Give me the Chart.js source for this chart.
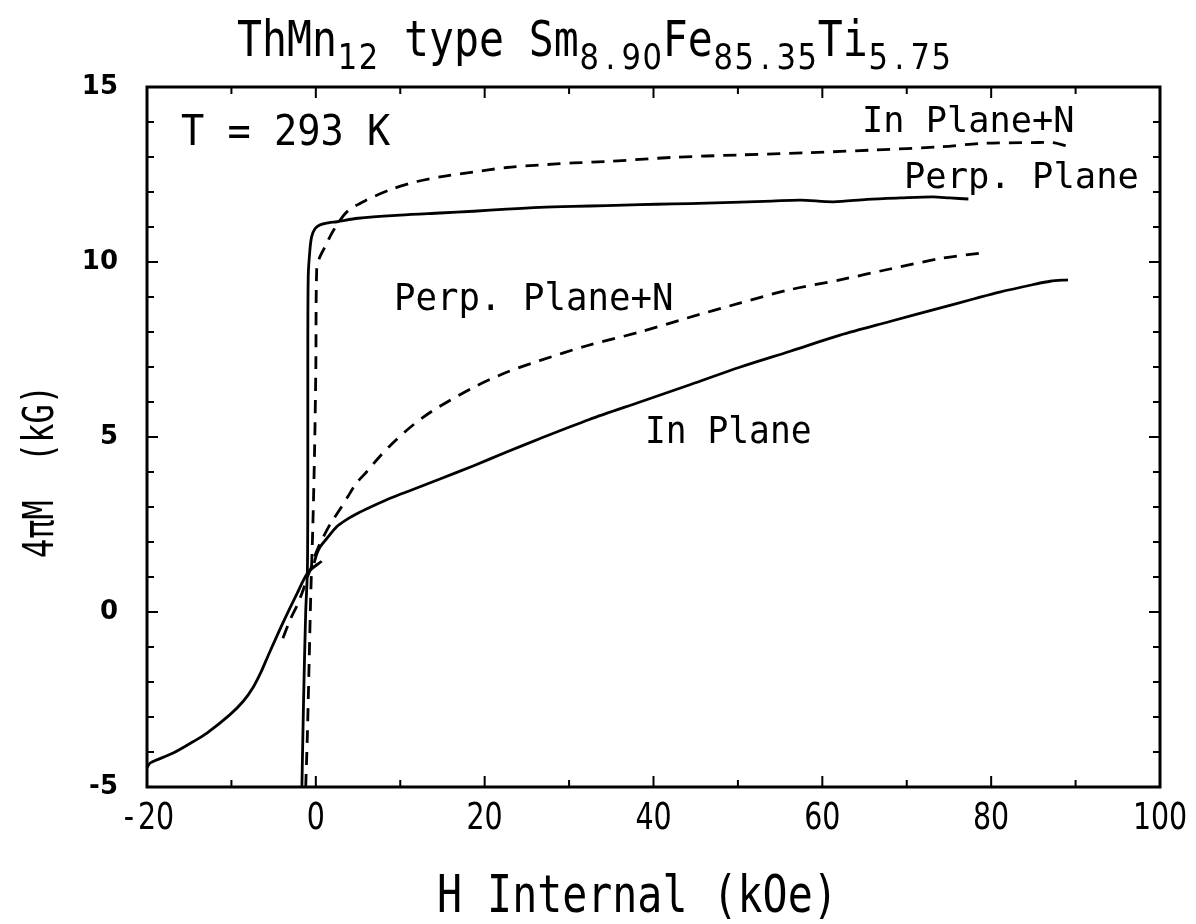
<!DOCTYPE html>
<html>
<head>
<meta charset="utf-8">
<title>ThMn12 type Sm8.90Fe85.35Ti5.75</title>
<script src="https://cdn.jsdelivr.net/npm/chart.js@4.4.1/dist/chart.umd.min.js"></script>
<style>
  html, body { margin: 0; padding: 0; background: #fff; }
  #wrap { width: 1196px; height: 924px; position: relative; }
</style>
</head>
<body>
<div id="wrap"><canvas id="mhChart"></canvas></div>
<script>
// H internal (kOe) and 4piM (kG) for each sweep
const perpPlaneH = [-1.65, -1.45, -1.2, -1.0, -0.95, -0.95, -0.9, -0.7, -0.5, -0.1, 0.5, 1.5, 2.5, 5, 10, 14.7, 18.7, 22.6, 26.5, 30.5, 34.4, 38.4, 42.3, 46.3, 50.3, 54, 57.4, 61.3, 65.3, 69.2, 73.1, 75.1, 77.3];
const perpPlaneM = [-5, -2.5, 0, 1.2, 3.8, 7, 9.6, 10.35, 10.72, 10.95, 11.06, 11.12, 11.15, 11.25, 11.34, 11.4, 11.45, 11.51, 11.56, 11.59, 11.61, 11.64, 11.66, 11.68, 11.71, 11.74, 11.77, 11.72, 11.79, 11.83, 11.86, 11.83, 11.8];

const inPlaneNH = [-1.2, -1.0, -0.8, -0.6, -0.35, -0.15, 0, 0.1, 0.4, 1.1, 2.1, 3.7, 6.0, 9.2, 12, 14.7, 18.7, 22.6, 26.5, 30.5, 34.4, 42.3, 50.3, 58.2, 66.1, 74, 79, 84.9, 87.3, 89.3];
const inPlaneNM = [-5, -3.5, -1.5, 0.5, 2.5, 4.6, 7, 9.77, 10.1, 10.44, 10.91, 11.44, 11.77, 12.1, 12.3, 12.43, 12.57, 12.7, 12.77, 12.83, 12.87, 12.99, 13.06, 13.12, 13.2, 13.29, 13.39, 13.41, 13.41, 13.29];

const perpPlaneNH = [-3.9, -3.0, -2.2, -1.5, -1.0, -0.5, -0.2, 0.3, 0.9, 1.8, 2.9, 3.8, 4.8, 6.0, 7.6, 9.0, 10.8, 12.7, 14.7, 18.7, 22.6, 26.5, 32, 38.4, 44, 50.3, 56, 62.1, 68, 74, 78.9];
const perpPlaneNM = [-0.75, -0.2, 0.2, 0.63, 1.0, 1.3, 1.55, 1.85, 2.15, 2.55, 2.95, 3.3, 3.68, 4.0, 4.45, 4.8, 5.2, 5.56, 5.88, 6.42, 6.85, 7.18, 7.6, 8.0, 8.4, 8.83, 9.2, 9.49, 9.8, 10.1, 10.26];

// in-plane sweep: descending branch, then the rising branch
const inPlaneLowH = [-20, -19.6, -16.9, -14.5, -12.9, -10.2, -8.6, -7.4, -6.5, -5.6, -3.9, -2.2, -0.9, 0.7];
const inPlaneLowM = [-4.45, -4.31, -4.03, -3.7, -3.46, -2.94, -2.55, -2.14, -1.72, -1.22, -0.31, 0.54, 1.14, 1.45];
const inPlaneUpH = [-0.2, 0.1, 0.5, 1.3, 2.5, 3.5, 4.8, 6.5, 8.8, 11.5, 14.7, 18.7, 22.6, 26.5, 32.4, 38.4, 44.4, 50.3, 56.2, 62.1, 68, 74, 78, 81, 84.9, 87, 89.1];
const inPlaneUpM = [1.4, 1.65, 1.86, 2.1, 2.44, 2.62, 2.8, 3.0, 3.25, 3.5, 3.8, 4.18, 4.57, 4.95, 5.5, 6.0, 6.5, 7.0, 7.45, 7.91, 8.3, 8.69, 8.95, 9.14, 9.35, 9.45, 9.49];

const xTickStep = 20;
const yTickStep = 5;

function zip(hs, ms) {
    return hs.map((h, i) => ({ x: h, y: ms[i] }));
}

const MONO = '"DejaVu Sans Mono", monospace';
const SANS = '"DejaVu Sans", sans-serif';

// draws condensed monospace text, optionally rotated
function plotText(ctx, str, x, y, size, sx, rot) {
    ctx.save();
    ctx.translate(x, y);
    if (rot) ctx.rotate(rot);
    ctx.scale(sx, 1);
    ctx.font = size + "px " + MONO;
    ctx.fillStyle = "#000";
    ctx.textAlign = "left";
    ctx.textBaseline = "alphabetic";
    ctx.fillText(str, 0, 0);
    ctx.restore();
}

// digits on a fixed pitch, one cell per character (plain zeros)
function digitRun(ctx, str, x, y, size, pitch, sx) {
    ctx.save();
    ctx.font = size + "px " + SANS;
    ctx.fillStyle = "#000";
    ctx.textAlign = "center";
    ctx.textBaseline = "alphabetic";
    for (let i = 0; i < str.length; i++) {
        ctx.save();
        ctx.translate(x + pitch * (i + 0.5), y);
        ctx.scale(sx, 1);
        ctx.fillText(str[i], 0, 0);
        ctx.restore();
    }
    ctx.restore();
    return pitch * str.length;
}

const framePlugin = {
    id: "frame",
    beforeDraw(chart) {
        const ctx = chart.ctx;
        ctx.save();
        ctx.fillStyle = "#fff";
        ctx.fillRect(0, 0, chart.width, chart.height);
        ctx.restore();
    },
    afterDraw(chart) {
        const ctx = chart.ctx;
        const a = chart.chartArea;
        const xs = chart.scales.x, ys = chart.scales.y;

        ctx.save();
        ctx.strokeStyle = "#000";
        ctx.lineWidth = 3;
        ctx.strokeRect(a.left, a.top, a.right - a.left, a.bottom - a.top);

        // inward ticks on all four sides
        ctx.lineWidth = 2;
        ctx.beginPath();
        for (let v = xs.min; v <= xs.max; v += 10) {
            const px = xs.getPixelForValue(v);
            const len = v % 20 === 0 ? 11 : 7;
            ctx.moveTo(px, a.bottom); ctx.lineTo(px, a.bottom - len);
            ctx.moveTo(px, a.top); ctx.lineTo(px, a.top + len);
        }
        for (let v = ys.min; v <= ys.max; v += 1) {
            const py = ys.getPixelForValue(v);
            const len = v % 5 === 0 ? 11 : 7;
            ctx.moveTo(a.left, py); ctx.lineTo(a.left + len, py);
            ctx.moveTo(a.right, py); ctx.lineTo(a.right - len, py);
        }
        ctx.stroke();
        ctx.restore();

        // x tick labels in the narrow plotter style
        const pitch = 18;
        xs.ticks.forEach(t => {
            const s = String(t.value);
            digitRun(ctx, s, xs.getPixelForValue(t.value) - pitch * s.length / 2, 829, 37, pitch, 0.77);
        });

        // title with subscripts
        const parts = [
            ["ThMn", false], ["12", true], [" type Sm", false], ["8.90", true],
            ["Fe", false], ["85.35", true], ["Ti", false], ["5.75", true]
        ];
        let tx = 237;
        parts.forEach(([s, sub]) => {
            if (sub) {
                tx += digitRun(ctx, s, tx, 69, 36, 21, 0.85);
            } else {
                plotText(ctx, s, tx, 56, 50, 0.83, 0);
                ctx.save();
                ctx.font = "50px " + MONO;
                tx += ctx.measureText(s).width * 0.83;
                ctx.restore();
            }
        });

        // axis titles
        plotText(ctx, "H Internal (kOe)", 437, 912, 52, 0.8, 0);
        plotText(ctx, "4\u03c0M  (kG)", 53, 558, 42, 0.76, -Math.PI / 2);

        // curve labels
        plotText(ctx, "T = 293 K", 181, 145, 42, 0.92, 0);
        plotText(ctx, "In Plane+N", 862, 132, 36, 0.98, 0);
        plotText(ctx, "Perp. Plane", 904, 188, 36, 0.985, 0);
        plotText(ctx, "Perp. Plane+N", 394, 310, 37, 0.965, 0);
        plotText(ctx, "In Plane", 645, 443, 38, 0.91, 0);
    }
};

const lineStyle = {
    showLine: true,
    pointRadius: 0,
    borderColor: "#000",
    borderWidth: 2.8,
    tension: 0.3,
    fill: false
};

new Chart(document.getElementById("mhChart"), {
    type: "scatter",
    data: {
        datasets: [
            Object.assign({ label: "Perp. Plane", data: zip(perpPlaneH, perpPlaneM) }, lineStyle),
            Object.assign({ label: "In Plane+N", data: zip(inPlaneNH, inPlaneNM), borderDash: [13, 9] }, lineStyle),
            Object.assign({ label: "Perp. Plane+N", data: zip(perpPlaneNH, perpPlaneNM), borderDash: [13, 9] }, lineStyle),
            Object.assign({
                label: "In Plane",
                data: zip(inPlaneLowH, inPlaneLowM).concat([{ x: 0.7, y: null }], zip(inPlaneUpH, inPlaneUpM))
            }, lineStyle)
        ]
    },
    options: {
        responsive: true,
        maintainAspectRatio: false,
        animation: false,
        layout: { padding: { top: 87, right: 36, left: 0, bottom: 0 } },
        plugins: {
            legend: { display: false },
            tooltip: { enabled: false }
        },
        scales: {
            x: {
                type: "linear",
                min: -20,
                max: 100,
                grid: { display: false, drawTicks: false },
                border: { display: false },
                ticks: { stepSize: xTickStep, display: false },
                afterFit(s) { s.height = 137; }
            },
            y: {
                type: "linear",
                min: -5,
                max: 15,
                grid: { display: false, drawTicks: false },
                border: { display: false },
                ticks: {
                    stepSize: yTickStep,
                    color: "#000",
                    padding: 29,
                    font: { family: SANS, size: 26, weight: "bold" }
                },
                afterFit(s) { s.width = 147; }
            }
        }
    },
    plugins: [framePlugin]
});
</script>
</body>
</html>
